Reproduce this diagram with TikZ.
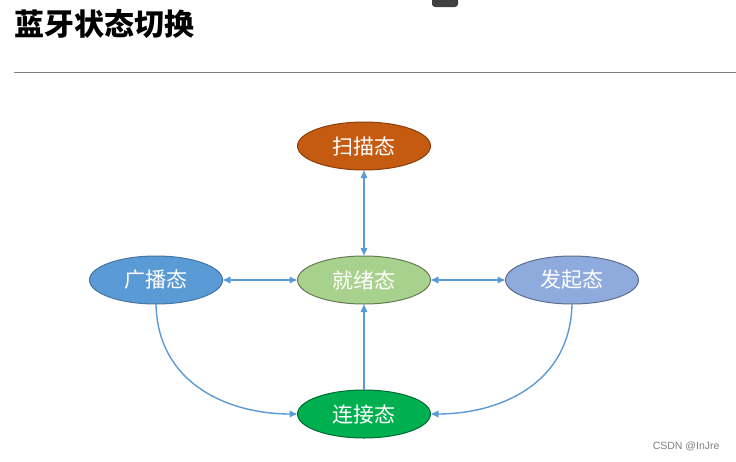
\documentclass[tikz,border=0pt]{standalone}
\usepackage{fontspec}
\setmainfont{Liberation Sans}
\newfontfamily\cjk{Noto Sans CJK SC}
\usetikzlibrary{arrows.meta,shapes.geometric}
\definecolor{linkc}{HTML}{5B9BD5}
\definecolor{scanc}{HTML}{C55A11}
\definecolor{readyc}{HTML}{A9D18E}
\definecolor{advc}{HTML}{5B9BD5}
\definecolor{initc}{HTML}{8FAADC}
\definecolor{connc}{HTML}{00B050}
\tikzset{
  state/.style={ellipse, minimum width=133pt, minimum height=48pt, inner sep=0pt,
    line width=1pt, text=white, font=\cjk\fontsize{21}{21}\selectfont},
  tip/.tip={Triangle[length=7.5pt,width=6.5pt]},
  link/.style={draw=linkc, line width=1.4pt, -tip},
  blink/.style={draw=linkc, line width=1.4pt, tip-tip}
}
\begin{document}
\begin{tikzpicture}[x=1pt,y=-1pt]
\useasboundingbox[fill=white] (0,0) rectangle (736,461);
% top artifact
\fill[black!75, rounded corners=3pt] (432,-6) rectangle (458,7);
\node[anchor=west, font=\cjk\bfseries\fontsize{30}{30}\selectfont] (title) at (11,24) {蓝牙状态切换};
\draw[gray, line width=1pt] (14,72) coordinate (l1) -- (736,72) coordinate (l2);
\node[state, fill=scanc, draw=scanc!70!black] (scan) at (364,146) {扫描态};
\node[state, fill=readyc, draw=readyc!60!black] (ready) at (364,280) {就绪态};
\node[state, fill=advc, draw=advc!75!black] (adv) at (156,280) {广播态};
\node[state, fill=initc, draw=initc!65!black] (init) at (572,280) {发起态};
\node[state, fill=connc, draw=connc!60!black] (conn) at (364,414) {连接态};
\draw[blink] (scan) -- (ready);
\draw[blink] (adv) -- (ready);
\draw[blink] (ready) -- (init);
\draw[link] (conn) -- (ready);
\draw[link] (adv.south) .. controls (158,385) and (230,414) .. (conn.west);
\draw[link] (init.south) .. controls (570,385) and (498,414) .. (conn.east);
\node[anchor=east, text=gray, font=\fontsize{10.5}{10.5}\selectfont] (wm) at (723,446) {CSDN @InJre};
\end{tikzpicture}
\end{document}
